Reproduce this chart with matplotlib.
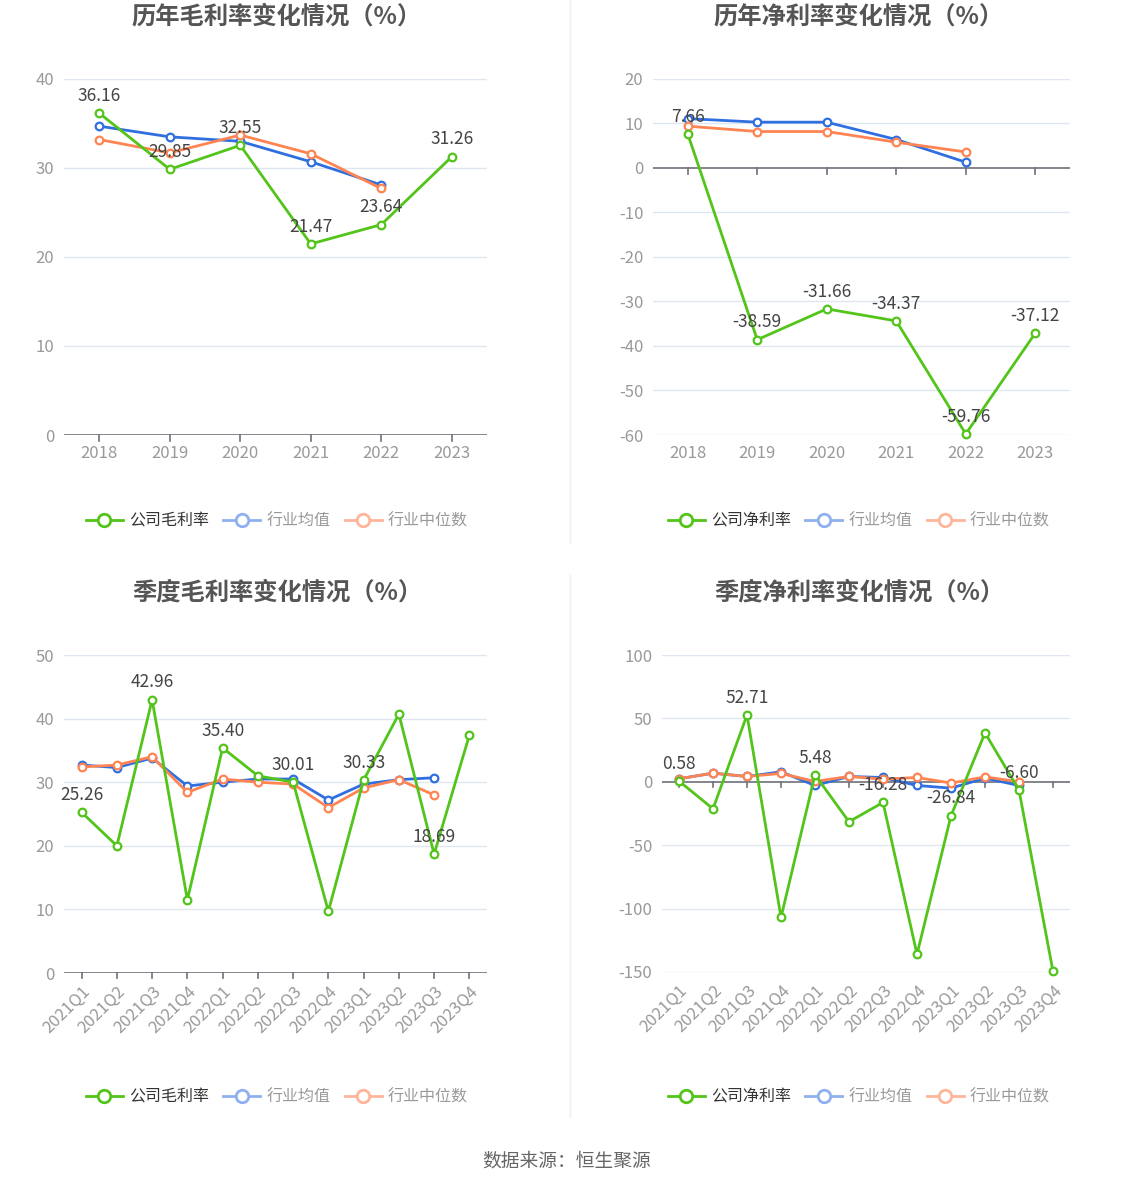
import matplotlib
matplotlib.use("Agg")
import matplotlib.pyplot as plt
from matplotlib.lines import Line2D

plt.rcParams['font.family'] = ['Noto Sans CJK SC', 'DejaVu Sans']

# ---------------- data ----------------
years = ['2018', '2019', '2020', '2021', '2022', '2023']
quarters = ['2021Q1', '2021Q2', '2021Q3', '2021Q4', '2022Q1', '2022Q2',
            '2022Q3', '2022Q4', '2023Q1', '2023Q2', '2023Q3', '2023Q4']

annual_gross_company = [36.16, 29.85, 32.55, 21.47, 23.64, 31.26]
annual_gross_mean = [34.7, 33.5, 33.0, 30.7, 28.1]
annual_gross_median = [33.2, 31.7, 33.7, 31.6, 27.7]

annual_net_company = [7.66, -38.59, -31.66, -34.37, -59.76, -37.12]
annual_net_mean = [11.1, 10.3, 10.3, 6.4, 1.3]
annual_net_median = [9.4, 8.2, 8.2, 5.8, 3.6]

q_gross_company = [25.26, 20.0, 42.96, 11.5, 35.40, 31.0, 30.01, 9.7, 30.33, 40.7, 18.69, 37.4]
q_gross_mean = [32.7, 32.3, 33.8, 29.4, 30.0, 30.5, 30.5, 27.2, 29.7, 30.4, 30.7]
q_gross_median = [32.4, 32.7, 34.0, 28.4, 30.5, 30.0, 29.7, 26.0, 29.1, 30.4, 28.0]

q_net_company = [0.58, -21.3, 52.71, -107.0, 5.48, -31.5, -16.28, -136.0, -26.84, 38.6, -6.60, -149.5]
q_net_mean = [2.4, 6.8, 4.2, 7.9, -2.9, 4.2, 3.4, -2.9, -5.0, 2.9, -2.9]
q_net_median = [2.4, 6.8, 4.2, 6.6, 0.3, 4.2, 2.1, 3.4, -1.0, 3.9, 0.0]

titles = ['历年毛利率变化情况（%）', '历年净利率变化情况（%）',
          '季度毛利率变化情况（%）', '季度净利率变化情况（%）']
legend_gross = ['公司毛利率', '行业均值', '行业中位数']
legend_net = ['公司净利率', '行业均值', '行业中位数']
source_text = '数据来源：恒生聚源'

# ---------------- style ----------------
GREEN = '#52C41A'
BLUE = '#2F6FE0'
ORANGE = '#FF8452'
GRID = '#E0E6F1'
AXIS = '#6E7079'
TICK = '#999999'

W, H = 1134, 1188
fig = plt.figure(figsize=(W / 100, H / 100), dpi=100)


def ax_at(left, top, right, bottom):
    return fig.add_axes([left / W, 1 - bottom / H, (right - left) / W, (bottom - top) / H])


def draw(ax, cats, comp, mean, median, yticks, label_idx, rotate):
    n = len(cats)
    xs = list(range(n))
    ax.set_xlim(-0.5, n - 0.5)
    ax.set_ylim(yticks[0], yticks[-1])
    for s in ax.spines.values():
        s.set_visible(False)
    for t in yticks:
        if t != 0:
            ax.axhline(t, color=GRID, lw=1, zorder=0)
    ax.axhline(0, color=AXIS, lw=1.2, zorder=1)
    ylo, yhi = yticks[0], yticks[-1]
    tl = (yhi - ylo) * 0.016
    for x in xs:
        ax.plot([x, x], [0, -tl], color=AXIS, lw=1.2, zorder=1, clip_on=False)
    ax.set_yticks(yticks)
    ax.set_yticklabels([str(t) for t in yticks], color=TICK, fontsize=12)
    ax.set_xticks(xs)
    if rotate:
        ax.set_xticklabels(cats, rotation=45, ha='right', rotation_mode='anchor',
                           color=TICK, fontsize=12)
    else:
        ax.set_xticklabels(cats, color=TICK, fontsize=12)
    ax.tick_params(axis='both', length=0, pad=7)
    kw = dict(lw=2, marker='o', markersize=5.5, markerfacecolor='white',
              markeredgewidth=1.6, clip_on=False)
    ax.plot(xs[:len(mean)], mean, color=BLUE, zorder=3, **kw)
    ax.plot(xs[:len(median)], median, color=ORANGE, zorder=4, **kw)
    ax.plot(xs, comp, color=GREEN, zorder=5, **kw)
    for i in label_idx:
        ax.annotate(f'{comp[i]:.2f}', (xs[i], comp[i]), xytext=(0, 6),
                    textcoords='offset points', ha='center', va='bottom',
                    fontsize=12.5, color='#444444', zorder=6)


ax1 = ax_at(64, 79, 487, 435)
draw(ax1, years, annual_gross_company, annual_gross_mean, annual_gross_median,
     [0, 10, 20, 30, 40], range(6), False)
ax2 = ax_at(653, 79, 1070, 435)
draw(ax2, years, annual_net_company, annual_net_mean, annual_net_median,
     [-60, -50, -40, -30, -20, -10, 0, 10, 20], range(6), False)
ax3 = ax_at(64, 655, 487, 973)
draw(ax3, quarters, q_gross_company, q_gross_mean, q_gross_median,
     [0, 10, 20, 30, 40, 50], range(0, 12, 2), True)
ax4 = ax_at(662, 655, 1070, 972)
draw(ax4, quarters, q_net_company, q_net_mean, q_net_median,
     [-150, -100, -50, 0, 50, 100], range(0, 12, 2), True)

# titles
for (cx, cy), t in zip([(277, 17), (859, 17), (277, 593), (859, 593)], titles):
    fig.text(cx / W, 1 - cy / H, t, ha='center', va='center', fontsize=17.5,
             fontweight='bold', color='#555555')


def legend(cx, cy, labels):
    handles = [
        Line2D([], [], color=GREEN, lw=2, marker='o', markersize=9,
               markerfacecolor='white', markeredgewidth=2),
        Line2D([], [], color='#8FB0F0', lw=2, marker='o', markersize=9,
               markerfacecolor='white', markeredgewidth=2),
        Line2D([], [], color='#FFB59B', lw=2, marker='o', markersize=9,
               markerfacecolor='white', markeredgewidth=2),
    ]
    fig.legend(handles, labels, loc='center', bbox_to_anchor=(cx / W, 1 - cy / H),
               ncol=3, frameon=False, fontsize=11.5, handlelength=2.3,
               handletextpad=0.4, columnspacing=0.9,
               labelcolor=['#333333', '#999999', '#999999'])


legend(277, 521, legend_gross)
legend(859, 521, legend_net)
legend(277, 1097, legend_gross)
legend(859, 1097, legend_net)

fig.add_artist(Line2D([570 / W, 570 / W], [1 - 0 / H, 1 - 542 / H], color='#EEEEEE', lw=1))
fig.add_artist(Line2D([570 / W, 570 / W], [1 - 575 / H, 1 - 1117 / H], color='#EEEEEE', lw=1))

fig.text(567 / W, 1 - 1161 / H, source_text, ha='center', va='center',
         fontsize=13.5, color='#666666')

fig.savefig('out.png', dpi=100, facecolor='white')
